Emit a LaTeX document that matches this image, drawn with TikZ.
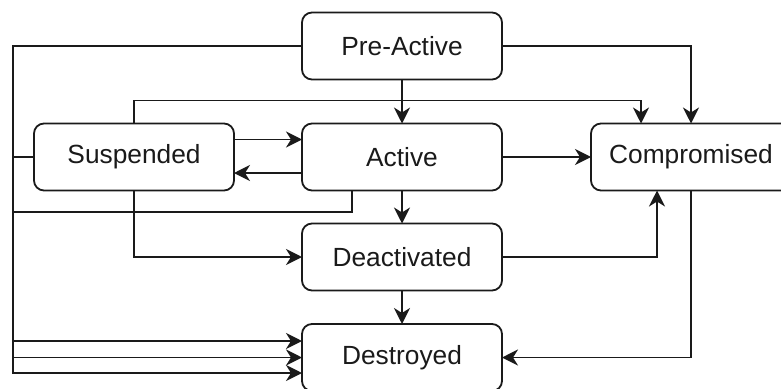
\documentclass[tikz,border=0pt]{standalone}
\usepackage{fontspec}
\setmainfont{Liberation Sans}
\usetikzlibrary{arrows.meta,calc}

\definecolor{ink}{HTML}{1A1A1A}

\tikzset{
  state/.style={draw=ink, rectangle, rounded corners=10pt, line width=1.8pt,
    minimum width=200pt, minimum height=67pt, outer sep=0pt, fill=white,
    text=ink, font=\fontsize{26.3pt}{31pt}\selectfont},
  arr/.style={draw=ink, line width=1.8pt,
    -{Stealth[length=16pt,width=16pt,inset=5pt]}}
}

\begin{document}
\begin{tikzpicture}[x=1pt, y=-1pt]
  \useasboundingbox (0,0) rectangle (781,388);
  \clip (0,0) rectangle (781,388);

  % states
  \node[state] (pre)   at (402,46)    {Pre-Active};
  \node[state] (act)   at (402,157)   {Active};
  \node[state] (sus)   at (134,157)   {Suspended};
  \node[state] (comp)  at (691,157)   {Compromised};
  \node[state] (deact) at (402,257)   {Deactivated};
  \node[state] (dest)  at (402,357.5) {Destroyed};

  % left-hand trunk into Destroyed
  \coordinate (trunk) at (13,300);
  \coordinate (drop)  at (13,212);

  % main lifecycle
  \draw[arr] (pre.south) -- (act.north);
  \draw[arr] (act.south) -- (deact.north);
  \draw[arr] (deact.south) -- (dest.north);

  % towards Compromised
  \draw[arr] (pre.east) -| (comp.north);
  \draw[arr] (sus.north) -- ++(0pt,23pt) -| ([xshift=-50pt]comp.north);
  \draw[arr] (act.east) -- (comp.west);
  \draw[arr] (deact.east) -| ([xshift=-34pt]comp.south);

  % Suspended <-> Active
  \draw[arr] ([yshift=17.5pt]sus.east) -- ([yshift=17.5pt]act.west);
  \draw[arr] ([yshift=-16pt]act.west) -- ([yshift=-16pt]sus.east);

  % Suspended -> Deactivated
  \draw[arr] (sus.south) |- (deact.west);

  % Compromised -> Destroyed
  \draw[arr] (comp.south) |- (dest.east);

  % everything else -> Destroyed via the left trunk
  \draw[arr] (pre.west) -| (trunk) |- ([yshift=-15.5pt]dest.west);
  \draw[arr] (sus.west) -| (trunk) |- (dest.west);
  \draw[arr] ([xshift=-50pt]act.south) |- (drop) |- ([yshift=16.5pt]dest.west);
\end{tikzpicture}
\end{document}
